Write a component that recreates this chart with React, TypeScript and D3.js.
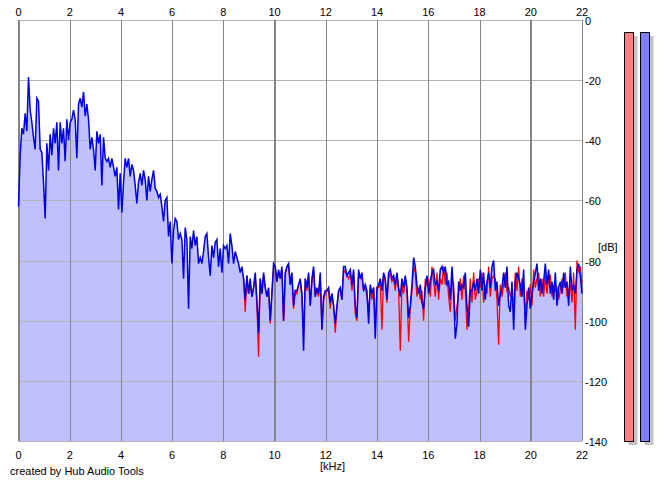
import * as d3 from "d3";

// spectrum, 0..22 kHz, evenly spaced samples
const blueLow = [
  -62, -45, -36, -38, -31, -37, -19, -30, -34, -39,
  -43, -26, -27, -43, -44, -54, -66, -41, -50, -38,
  -45, -36, -41, -34, -50, -34, -41, -36, -47, -33,
  -40, -34, -33, -30, -33, -46, -28, -26, -29, -24,
  -32, -28, -33, -43, -39, -43, -50, -37, -41, -38,
  -55, -39, -46, -47, -46, -49, -46, -49, -52, -49,
  -63, -51, -64, -54, -46, -49, -46, -52, -48, -50,
  -55, -61, -54, -51, -55, -50, -53, -60, -52, -57,
  -53, -50, -56, -57, -59, -58, -62, -67, -60, -59,
  -72, -67, -81, -70, -66, -67, -73, -71, -73, -86,
  -69, -73, -96, -72, -76, -70, -75, -72, -81, -79,
  -81, -77, -72, -71, -79, -85, -75, -79, -74, -73,
  -82, -76, -84, -75, -76, -75, -81, -71, -75, -81,
  -77, -79, -81, -84, -82,
];

const blueHigh = [
  -86, -93, -85, -91, -86, -92, -89, -84, -93, -104,
  -86, -91, -84, -89, -92, -89, -100, -91, -81, -82,
  -87, -83, -86, -82, -100, -84, -82, -81, -88, -84,
  -95, -90, -90, -88, -86, -91, -110, -86, -89, -84,
  -95, -86, -82, -92, -89, -91, -84, -103, -92, -90,
  -90, -89, -94, -91, -95, -101, -95, -90, -89, -93,
  -82, -82, -85, -84, -83, -88, -83, -95, -99, -83,
  -86, -84, -90, -88, -90, -101, -88, -91, -89, -106,
  -89, -88, -86, -90, -84, -86, -93, -84, -83, -86,
  -85, -88, -84, -89, -92, -86, -89, -85, -89, -99,
  -95, -88, -79, -82, -88, -91, -88, -94, -96, -89,
  -85, -91, -87, -84, -83, -88, -87, -90, -83, -82,
  -84, -82, -88, -87, -93, -82, -91, -106, -101, -87,
  -90, -88, -89, -84, -95, -102, -90, -90, -87, -90,
  -86, -91, -83, -90, -84, -93, -87, -84, -89, -82,
  -80, -90, -87, -95, -91, -89, -84, -89, -82, -95,
  -97, -87, -103, -87, -84, -86, -88, -92, -83, -103,
  -95, -89, -96, -91, -87, -84, -81, -90, -86, -91,
  -87, -81, -88, -83, -91, -87, -93, -84, -95, -89,
  -87, -91, -84, -89, -87, -95, -82, -90, -88, -91,
  -83, -81, -85, -91,
];

// red channel only separates from blue in the upper band
const redHigh = [
  -86, -97, -85, -91, -88, -92, -89, -85, -95, -112,
  -86, -91, -85, -89, -92, -90, -101, -91, -82, -82,
  -87, -84, -86, -83, -100, -85, -82, -82, -88, -86,
  -96, -90, -91, -88, -87, -92, -104, -86, -90, -85,
  -95, -87, -83, -92, -90, -92, -85, -103, -93, -91,
  -90, -90, -96, -91, -95, -104, -96, -90, -90, -93,
  -83, -84, -85, -86, -84, -90, -84, -98, -100, -84,
  -86, -86, -90, -89, -92, -97, -89, -93, -89, -102,
  -89, -89, -87, -103, -85, -87, -94, -86, -84, -87,
  -86, -90, -85, -90, -110, -88, -91, -86, -90, -107,
  -96, -90, -82, -84, -92, -89, -93, -90, -100, -86,
  -88, -86, -92, -82, -87, -92, -84, -93, -86, -88,
  -82, -88, -84, -92, -97, -86, -88, -100, -95, -91,
  -86, -93, -85, -90, -103, -96, -86, -94, -84, -93,
  -90, -86, -89, -84, -94, -88, -91, -82, -92, -86,
  -85, -86, -93, -108, -88, -92, -88, -84, -90, -89,
  -92, -90, -96, -84, -90, -82, -92, -86, -90, -98,
  -90, -93, -88, -95, -83, -89, -86, -84, -92, -86,
  -92, -85, -91, -86, -85, -92, -88, -90, -89, -93,
  -90, -86, -89, -84, -92, -90, -88, -94, -84, -103,
  -80, -84, -82, -88,
];

const khzTicks = [0, 2, 4, 6, 8, 10, 12, 14, 16, 18, 20, 22];
const majorKhz = [0, 10, 20];
const dbTicks = [0, -20, -40, -60, -80, -100, -120, -140];
const meterLevels = [-4, -4]; // L (red), R (blue)

const W = 664;
const H = 482;
const FONT = "'Liberation Sans', Arial, sans-serif";

export default function App() {
  const x = d3.scaleLinear().domain([0, 22]).range([18.5, 582]);
  const y = d3.scaleLinear().domain([0, -140]).range([20, 441]);

  const blue = [...blueLow, ...blueHigh];
  const step = 22 / (blue.length - 1);
  const bluePts = blue.map((v, i) => [i * step, v] as [number, number]);
  const redPts = redHigh.map((v, i) => [(blueLow.length + i) * step, v] as [number, number]);

  const line = d3
    .line<[number, number]>()
    .x((d) => x(d[0]))
    .y((d) => y(d[1]));
  const area = d3
    .area<[number, number]>()
    .x((d) => x(d[0]))
    .y0(y(-140))
    .y1((d) => y(d[1]));

  const meterX = [624.5, 640.5];
  const meterFill = ["#ff8080", "#8080ff"];
  const meterW = 9;

  return (
    <div style={{ position: "absolute", left: 0, top: 0 }}>
      <svg width={W} height={H} style={{ display: "block", background: "#fff" }} fontFamily={FONT}>
        {/* spectrum fill */}
        <path d={area(bluePts) ?? ""} fill="#c0c0ff" />

        {/* horizontal grid */}
        {dbTicks.map((t) => (
          <line
            key={`h${t}`}
            x1={x(0)}
            x2={x(22)}
            y1={Math.round(y(t)) + 0.5}
            y2={Math.round(y(t)) + 0.5}
            stroke="#b4b4b4"
            strokeWidth={1}
          />
        ))}
        {/* vertical grid, heavier every 10 kHz */}
        {khzTicks.map((t) => {
          const major = majorKhz.includes(t);
          return (
            <line
              key={`v${t}`}
              x1={Math.round(x(t)) + (major ? 0 : 0.5)}
              x2={Math.round(x(t)) + (major ? 0 : 0.5)}
              y1={y(0)}
              y2={y(-140)}
              stroke="#848484"
              strokeWidth={major ? 2 : 1}
            />
          );
        })}

        {/* channels */}
        <path d={line(redPts) ?? ""} fill="none" stroke="#ff0000" strokeWidth={1.3} />
        <path d={line(bluePts) ?? ""} fill="none" stroke="#0000e0" strokeWidth={1.5} />

        {/* top kHz labels */}
        {khzTicks.map((t) => (
          <text key={`tt${t}`} x={x(t)} y={16} fontSize={11} textAnchor="middle" fill="#000">
            {t}
          </text>
        ))}
        {/* bottom kHz labels */}
        {khzTicks.map((t) => (
          <text key={`bt${t}`} x={x(t)} y={459} fontSize={11} textAnchor="middle" fill="#000">
            {t}
          </text>
        ))}
        {/* right dB labels */}
        {dbTicks.map((t) => (
          <text key={`dt${t}`} x={585} y={y(t) + 5} fontSize={11} textAnchor="start" fill="#000">
            {t}
          </text>
        ))}
        <text x={598} y={251} fontSize={11} fill="#000">
          [dB]
        </text>
        <text x={320} y={470} fontSize={11} fill="#000">
          [kHz]
        </text>
        <text x={10} y={475} fontSize={11} fill="#000">
          created by Hub Audio Tools
        </text>

        {/* level meters */}
        {meterLevels.map((lv, i) => (
          <g key={`m${i}`}>
            <rect
              x={meterX[i] + 4}
              y={y(lv) + 4}
              width={meterW}
              height={y(-140) - y(lv)}
              fill="#c4c4c4"
            />
            <rect
              x={meterX[i]}
              y={y(lv) + 0.5}
              width={meterW}
              height={y(-140) - y(lv)}
              fill={meterFill[i]}
              stroke="#000"
              strokeWidth={1}
            />
          </g>
        ))}
      </svg>
    </div>
  );
}
